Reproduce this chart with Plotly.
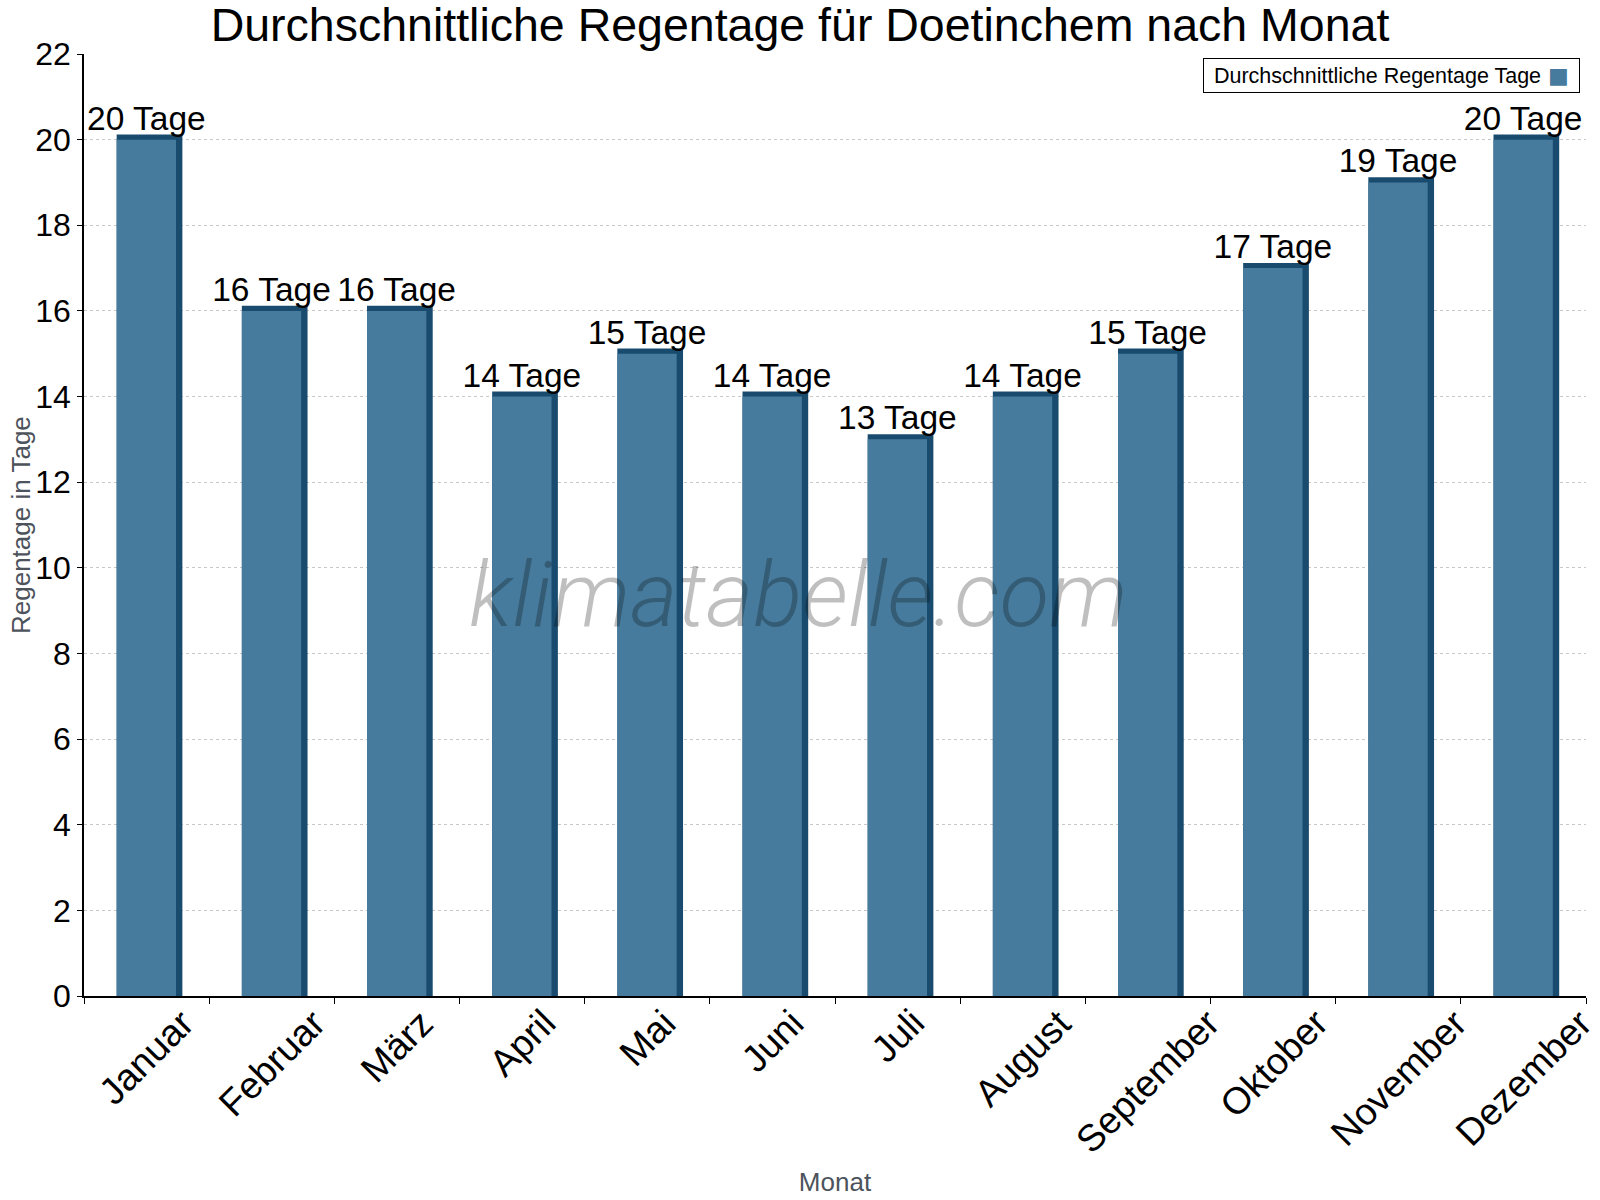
import plotly.graph_objects as go

months = ["Januar", "Februar", "März", "April", "Mai", "Juni", "Juli",
          "August", "September", "Oktober", "November", "Dezember"]
rain_days = [20, 16, 16, 14, 15, 14, 13, 14, 15, 17, 19, 20]
series_name = "Durchschnittliche Regentage Tage"
label_suffix = " Tage"

FRONT = "#467b9d"
DARK = "#184b6e"
FONT = "Liberation Sans, Arial, sans-serif"
GREY = "#4d535c"

# depth of the pseudo-3D bar edge, in axis units (about 5 px)
depth = 0.12

fig = go.Figure()
# dark back/side part of the bar
fig.add_trace(go.Bar(
    x=months, y=[v + depth for v in rain_days],
    width=0.525, offset=-0.239,
    marker=dict(color=DARK, line=dict(width=0)),
    showlegend=False, hoverinfo="skip",
))
# front face
fig.add_trace(go.Bar(
    x=months, y=rain_days, name=series_name,
    width=0.474, offset=-0.239,
    marker=dict(color=FRONT, line=dict(width=0)),
    text=[f"{v}{label_suffix}" for v in rain_days],
    textposition="outside", constraintext="none", cliponaxis=False,
    textfont=dict(family=FONT, size=33.5, color="black"),
    showlegend=False,
))

fig.update_layout(
    width=1600, height=1200,
    barmode="overlay",
    plot_bgcolor="white", paper_bgcolor="white",
    margin=dict(l=84, r=14, t=54, b=204),
    font=dict(family=FONT, color="black"),
    title=dict(text="Durchschnittliche Regentage für Doetinchem nach Monat",
               x=0.5, xanchor="center", y=0.979, yanchor="middle", yref="container",
               font=dict(size=46.5, color="black", family=FONT)),
    showlegend=False,
)
fig.update_xaxes(
    type="category", range=[-0.5, len(months) - 0.5], showticklabels=False,
    showline=True, linecolor="black", linewidth=1.5,
    ticks="outside", tickson="boundaries", ticklen=6, tickcolor="black",
    showgrid=False,
    title=dict(text="Monat", font=dict(size=26, color=GREY, family=FONT), standoff=176),
    automargin=False,
)
fig.update_yaxes(
    range=[0, 22], dtick=2, tick0=0,
    tickfont=dict(size=32, family=FONT, color="black"),
    showline=True, linecolor="black", linewidth=1.5,
    ticks="outside", ticklen=5, tickcolor="black",
    showgrid=True, gridcolor="#c8c8c8", griddash="dot", gridwidth=1,
    zeroline=False, automargin=False,
)

# month labels: rotated about their centre and top-aligned below the axis
for m in months:
    fig.add_annotation(
        text=m, x=m, xref="x", y=0, yref="y", yshift=-3,
        xanchor="center", yanchor="top", textangle=-45, showarrow=False,
        font=dict(family=FONT, size=37.5, color="black"),
    )

# y axis title
fig.add_annotation(
    text="Regentage in Tage", xref="paper", yref="paper", x=0, y=0.5,
    xshift=-63, xanchor="center", yanchor="middle", textangle=-90, showarrow=False,
    font=dict(family=FONT, size=26, color=GREY),
)

# watermark
fig.add_annotation(
    text="klimatabelle.com", xref="paper", yref="paper", x=0.476, y=0.426,
    xanchor="center", yanchor="middle", showarrow=False,
    font=dict(family="Roboto", size=91, color="rgba(0,0,0,0.25)", weight=300, style="italic"),
)

# legend box (symbol on the right, as in the original)
fig.add_annotation(
    text=f"&nbsp;{series_name}",
    xref="paper", yref="paper", x=0.996, y=0.9954, xanchor="right", yanchor="top",
    showarrow=False, align="left", valign="middle", width=367, height=25,
    font=dict(family=FONT, size=21.5, color="black"),
    bordercolor="black", borderwidth=1, borderpad=4, bgcolor="white",
)
fig.add_annotation(
    text="■", xref="paper", yref="paper", x=0.996, y=0.9774, xshift=-9,
    xanchor="right", yanchor="middle", showarrow=False,
    font=dict(family="DejaVu Sans", size=22, color=FRONT),
)

fig.write_html("out.html")
